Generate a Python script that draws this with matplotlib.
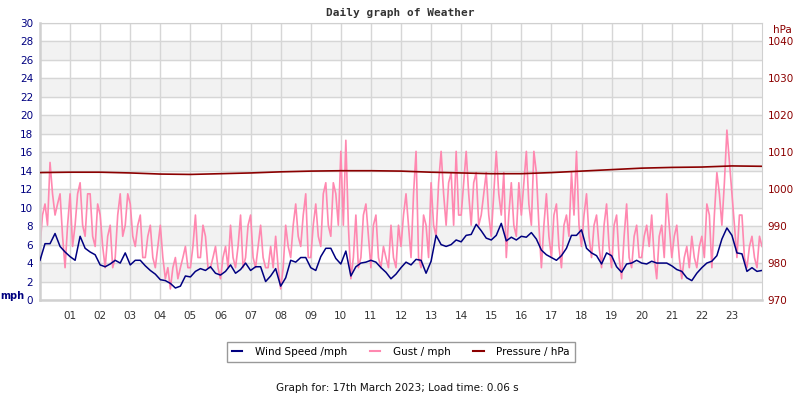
import numpy as np
import matplotlib
matplotlib.use("Agg")
import matplotlib.pyplot as plt
from matplotlib.lines import Line2D

# wind speed every 10 minutes, 00:00 .. 24:00 (mph)
wind = [4.3, 6.1, 6.1, 7.2, 5.8, 5.2, 4.7, 4.3, 6.9, 5.6, 5.2, 4.9, 3.8, 3.6, 3.9, 4.3, 4.0, 5.1, 3.8, 4.3, 4.3, 3.7, 3.2, 2.8,
        2.2, 2.1, 1.8, 1.3, 1.5, 2.6, 2.5, 3.1, 3.4, 3.2, 3.6, 2.9, 2.7, 3.1, 3.8, 2.9, 3.3, 4.0, 3.2, 3.6, 3.6, 2.0, 2.6, 3.4,
        1.5, 2.4, 4.3, 4.1, 4.6, 4.6, 3.5, 3.2, 4.7, 5.6, 5.6, 4.5, 3.9, 5.3, 2.6, 3.6, 4.0, 4.1, 4.3, 4.1, 3.5, 3.0, 2.3, 2.8,
        3.5, 4.1, 3.8, 4.4, 4.3, 2.9, 4.2, 7.0, 6.0, 5.8, 6.0, 6.5, 6.3, 7.0, 7.1, 8.2, 7.5, 6.7, 6.5, 7.0, 8.3, 6.4, 6.8, 6.5,
        6.9, 6.8, 7.3, 6.6, 5.4, 4.9, 4.6, 4.3, 4.8, 5.6, 7.0, 7.0, 7.6, 5.6, 5.1, 4.8, 3.9, 5.1, 4.8, 3.6, 3.0, 3.9, 4.0, 4.3,
        4.0, 3.9, 4.2, 4.0, 4.0, 4.0, 3.7, 3.3, 3.1, 2.4, 2.1, 2.9, 3.5, 4.0, 4.2, 4.8, 6.6, 7.8, 7.0, 5.1, 5.0, 3.1, 3.5, 3.1, 3.2]

# gust every 5 minutes, one row per hour (mph)
gust = [5.8, 9.2, 10.4, 8.1, 14.9, 11.5, 9.2, 10.4, 11.5, 6.9, 3.5, 8.1,
        11.5, 5.8, 8.1, 11.5, 12.7, 8.1, 6.9, 11.5, 11.5, 6.9, 5.8, 10.4,
        9.2, 5.8, 3.5, 6.9, 8.1, 3.5, 4.6, 9.2, 11.5, 6.9, 8.1, 11.5,
        10.4, 6.9, 5.8, 8.1, 9.2, 4.6, 4.6, 6.9, 8.1, 4.6, 3.5, 5.8,
        8.1, 4.6, 2.3, 3.5, 1.2, 3.5, 4.6, 2.3, 3.5, 4.6, 5.8, 3.5,
        3.5, 5.8, 9.2, 4.6, 4.6, 8.1, 6.9, 3.5, 3.5, 4.6, 5.8, 3.5,
        2.3, 4.6, 5.8, 3.5, 8.1, 4.6, 3.5, 5.8, 9.2, 3.5, 4.6, 8.1,
        9.2, 4.6, 3.5, 5.8, 8.1, 4.6, 3.5, 3.5, 5.8, 3.5, 6.9, 3.5,
        1.2, 3.5, 8.1, 5.8, 4.6, 8.1, 10.4, 6.9, 5.8, 9.2, 11.5, 4.6,
        4.6, 8.1, 10.4, 6.9, 5.8, 11.5, 12.7, 8.1, 6.9, 12.7, 11.5, 8.1,
        16.1, 8.1, 17.3, 8.1, 2.3, 4.6, 9.2, 3.5, 4.6, 9.2, 10.4, 6.9,
        3.5, 8.1, 9.2, 4.6, 3.5, 5.8, 4.6, 3.5, 8.1, 4.6, 3.5, 8.1,
        5.8, 9.2, 11.5, 8.1, 4.6, 11.5, 16.1, 4.6, 3.5, 9.2, 8.1, 4.6,
        12.7, 8.1, 6.9, 12.7, 16.1, 11.5, 8.1, 12.7, 13.8, 8.1, 16.1, 9.2,
        9.2, 12.7, 16.1, 11.5, 8.1, 12.7, 13.8, 8.1, 9.2, 11.5, 13.8, 9.2,
        6.9, 11.5, 16.1, 11.5, 9.2, 13.8, 4.6, 9.2, 12.7, 8.1, 6.9, 12.7,
        9.2, 12.7, 16.1, 10.4, 8.1, 16.1, 13.8, 8.1, 3.5, 8.1, 11.5, 6.9,
        4.6, 9.2, 10.4, 5.8, 3.5, 8.1, 9.2, 6.9, 13.8, 9.2, 16.1, 8.1,
        5.8, 9.2, 11.5, 6.9, 4.6, 8.1, 9.2, 5.8, 3.5, 8.1, 10.4, 5.8,
        3.5, 8.1, 9.2, 4.6, 2.3, 6.9, 10.4, 4.6, 3.5, 6.9, 8.1, 4.6,
        4.6, 6.9, 8.1, 5.8, 9.2, 4.6, 2.3, 6.9, 8.1, 4.6, 11.5, 8.1,
        4.6, 6.9, 8.1, 4.6, 2.3, 4.6, 5.8, 3.5, 6.9, 4.6, 3.5, 5.8,
        6.9, 4.6, 10.4, 9.2, 3.5, 9.2, 13.8, 11.5, 8.1, 12.7, 18.4, 15.0,
        11.5, 8.1, 4.6, 9.2, 9.2, 4.6, 3.5, 5.8, 6.9, 4.6, 3.5, 6.9,
        5.8]

# hourly pressure, 00 .. 24 (hPa)
pressure = [1004.5, 1004.6, 1004.6, 1004.4, 1004.1, 1004.0, 1004.2, 1004.4, 1004.7, 1004.9, 1005.0, 1005.0, 1004.9,
            1004.6, 1004.4, 1004.2, 1004.2, 1004.5, 1004.9, 1005.3, 1005.7, 1005.9, 1006.0, 1006.3, 1006.2]

hour_labels = ["%02d" % h for h in range(1, 24)]

t_wind = np.arange(len(wind)) / 6.0
t_gust = np.arange(len(gust)) / 12.0
t_pres = np.arange(len(pressure))

navy = "#000080"
pink = "#ff88b0"
darkred = "#8b0000"

fig = plt.figure(figsize=(8, 4), dpi=100)
ax = fig.add_axes([0.05, 0.25, 0.9025, 0.6925])

# background bands
for lo in range(2, 30, 4):
    ax.axhspan(lo, lo + 2, color="#f2f2f2", zorder=0)

ax.plot(t_gust, gust, color=pink, lw=1.2, zorder=2)
ax.plot(t_wind, wind, color=navy, lw=1.1, zorder=3)

ax.set_xlim(0, 24)
ax.set_ylim(0, 30)
ax.set_yticks(range(0, 31, 2))
ax.set_xticks(range(1, 24))
ax.set_xticklabels(hour_labels)
ax.grid(True, color="#d6d6d6", lw=1.0, zorder=1)
ax.set_axisbelow(True)
ax.tick_params(axis="both", length=0, labelsize=7.5)
ax.tick_params(axis="y", colors=navy, pad=5)
ax.tick_params(axis="x", colors="#333333", pad=8)
for s in ax.spines.values():
    s.set_color("#d0d0d0")
ax.spines["left"].set_linewidth(1.8)
ax.spines["bottom"].set_linewidth(1.8)

ax2 = ax.twinx()
ax2.plot(t_pres, pressure, color=darkred, lw=1.2, zorder=4)
ax2.set_ylim(970, 1045)
ax2.set_yticks(range(970, 1041, 10))
ax2.tick_params(axis="y", length=0, labelsize=7.5, colors=darkred, pad=4)
for s in ax2.spines.values():
    s.set_visible(False)

fig.text(0.5, 0.968, "Daily graph of Weather", ha="center", va="center",
         family="DejaVu Sans Mono", weight="bold", fontsize=8, color="#333333")
fig.text(0.015, 0.26, "mph", ha="center", va="center", weight="bold", fontsize=7, color=navy)
fig.text(0.978, 0.925, "hPa", ha="center", va="center", fontsize=7.5, color=darkred)

handles = [Line2D([], [], color=navy, lw=1.5),
           Line2D([], [], color=pink, lw=1.5),
           Line2D([], [], color=darkred, lw=1.5)]
leg = fig.legend(handles, ["Wind Speed /mph", "Gust / mph", "Pressure / hPa"],
                 loc="center", bbox_to_anchor=(0.501, 0.12), ncol=3, fontsize=7.5,
                 frameon=True, fancybox=False, handlelength=1.0, columnspacing=2.2,
                 handletextpad=1.2, borderpad=0.5)
leg.get_frame().set_edgecolor("#808080")
leg.get_frame().set_linewidth(1.0)

fig.text(0.497, 0.03, "Graph for: 17th March 2023; Load time: 0.06 s", ha="center", va="center",
         fontsize=7.5, color="#111111")

fig.savefig("out.png", dpi=100)
